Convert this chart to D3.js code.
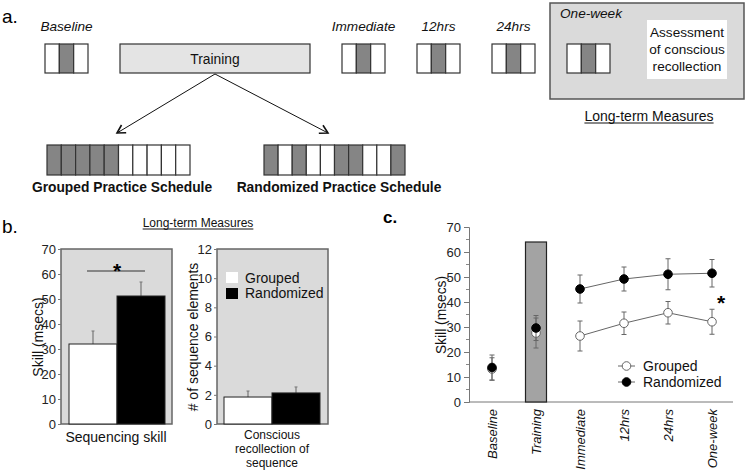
<!DOCTYPE html>
<html><head><meta charset="utf-8">
<script src="https://cdn.jsdelivr.net/npm/d3@7"></script>
<style>body{margin:0;background:#fff;} svg{display:block;font-family:'Liberation Sans',Arial,sans-serif;}</style>
</head><body><svg id="c" width="746" height="473"></svg>
<script>
// ---------- data ----------
const testPoints = ["Baseline","Immediate","12hrs","24hrs","One-week"];
const testPattern = [0,1,0];
const groupedSchedule = [1,1,1,1,1,0,0,0,0,0];
const randomizedSchedule = [1,0,1,0,0,1,1,0,0,1];
const scheduleLabels = ["Grouped Practice Schedule","Randomized Practice Schedule"];
const assessmentLines = ["Assessment","of conscious","recollection"];

const groups = ["Grouped","Randomized"];
const skillMeans = [32.0, 51.2];
const skillErr = [5.2, 5.6];
const skillTicks = [0,10,20,30,40,50,60,70];
const recollMeans = [1.85, 2.13];
const recollErr = [0.41, 0.41];
const recollTicks = [0,2,4,6,8,10,12];
const recollLabel = ["Conscious","recollection of","sequence"];

const timeCats = ["Baseline","Training","Immediate","12hrs","24hrs","One-week"];
const groupedSkill = [13.2,27.6,26.4,31.5,35.7,32.1];
const groupedSkillErr = [4.5,6.0,6.0,4.5,4.5,5.0];
const randomizedSkill = [13.8,29.6,45.2,49.2,51.1,51.5];
const randomizedSkillErr = [5.0,5.0,5.6,4.8,6.2,5.5];
const trainingBar = 64;
const connected = ["Immediate","12hrs","24hrs","One-week"];
const skillTicksC = [0,10,20,30,40,50,60,70];

// ---------- setup ----------
const svg = d3.select("#c");
const GRAYCELL = "#858585";
const EDGE = "#333";

function underlined(g, x, y, txt, size) {
  const t = g.append("text").attr("x", x).attr("y", y).attr("text-anchor","middle")
    .attr("font-size", size).attr("fill","#111").text(txt);
  const w = t.node().getComputedTextLength();
  g.append("line").attr("x1", x - w/2).attr("x2", x + w/2).attr("y1", y + 2).attr("y2", y + 2)
    .attr("stroke","#111").attr("stroke-width",1);
}

// ================= Panel a =================
const A = svg.append("g");
A.append("text").attr("x",2).attr("y",23).attr("font-size",19).text("a.");

// One-week long-term box
A.append("rect").attr("x",550).attr("y",3).attr("width",194).attr("height",96)
  .attr("fill","#dadada").attr("stroke","#555").attr("stroke-width",1.5);
A.append("rect").attr("x",647).attr("y",20).attr("width",80).attr("height",59).attr("fill","#fff");
A.selectAll("text.assess").data(assessmentLines).join("text").attr("class","assess")
  .attr("x",687).attr("y",(d,i)=>37+i*17).attr("text-anchor","middle").attr("font-size",13.6)
  .attr("fill","#111").text(d=>d);
underlined(A, 649, 121, "Long-term Measures", 14);

const boxX = d3.scaleOrdinal().domain(testPoints).range([45,342,417,492,567]);
const boxW = 43, boxY = 44, boxH = 29;
testPoints.forEach(tp => {
  const cx = d3.scaleBand().domain(d3.range(testPattern.length)).range([boxX(tp), boxX(tp)+boxW]);
  A.selectAll(null).data(testPattern).join("rect")
    .attr("x",(d,i)=>cx(i)).attr("y",boxY).attr("width",cx.bandwidth()).attr("height",boxH)
    .attr("fill",d=>d?GRAYCELL:"#fff").attr("stroke",EDGE).attr("stroke-width",1.2);
  const onew = tp === "One-week";
  A.append("text").attr("x", onew ? 560 : boxX(tp)+boxW/2).attr("y", onew ? 18 : 31)
    .attr("text-anchor", onew ? "start" : "middle").attr("font-size",13.6)
    .attr("font-style","italic").attr("fill","#111").text(tp);
});

// Training box
A.append("rect").attr("x",120).attr("y",44).attr("width",190).attr("height",29)
  .attr("fill","#e4e4e4").attr("stroke",EDGE).attr("stroke-width",1.2);
A.append("text").attr("x",215).attr("y",63.5).attr("text-anchor","middle").attr("font-size",13.8)
  .attr("fill","#111").text("Training");

// arrows
const defs = svg.append("defs");
defs.append("marker").attr("id","arr").attr("viewBox","-10 -6 12 12").attr("refX",0).attr("refY",0)
  .attr("markerWidth",12).attr("markerHeight",12).attr("markerUnits","userSpaceOnUse").attr("orient","auto")
  .append("path").attr("d","M-8,-4.5 L0,0 L-8,4.5").attr("fill","none").attr("stroke","#111").attr("stroke-width",1.6);
[[117,133],[328,133]].forEach(([ex,ey]) => {
  A.append("line").attr("x1",215).attr("y1",74).attr("x2",ex).attr("y2",ey)
    .attr("stroke","#111").attr("stroke-width",1).attr("marker-end","url(#arr)");
});

// schedules
const schedules = [groupedSchedule, randomizedSchedule];
const schedRange = [[47,190],[264,405]];
const schedLabelX = [122,339];
schedules.forEach((s, k) => {
  const sx = d3.scaleBand().domain(d3.range(s.length)).range(schedRange[k]);
  A.selectAll(null).data(s).join("rect")
    .attr("x",(d,i)=>sx(i)).attr("y",145).attr("width",sx.bandwidth()).attr("height",30)
    .attr("fill",d=>d?GRAYCELL:"#fff").attr("stroke",EDGE).attr("stroke-width",1.2);
  A.append("text").attr("x",schedLabelX[k]).attr("y",192).attr("text-anchor","middle")
    .attr("font-size",13.8).attr("font-weight","bold").attr("fill","#111").text(scheduleLabels[k]);
});

// ================= Panel b =================
const B = svg.append("g");
B.append("text").attr("x",2).attr("y",233).attr("font-size",19).text("b.");
underlined(B, 198, 227, "Long-term Measures", 12);

function barPanel(frameX, frameW, bandRange, domainMax, ticks, means, errs, ylabel, ylabelX) {
  const y = d3.scaleLinear().domain([0, domainMax]).range([424, 249]);
  const x = d3.scaleBand().domain(groups).range(bandRange);
  B.append("rect").attr("x",frameX).attr("y",249).attr("width",frameW).attr("height",175)
    .attr("fill","#dadada").attr("stroke","#666").attr("stroke-width",1.5);
  const ax = B.append("g").attr("transform",`translate(${frameX},0)`)
    .call(d3.axisLeft(y).tickValues(ticks).tickSize(3).tickPadding(2));
  ax.select(".domain").remove();
  ax.selectAll("text").attr("font-size",13).attr("fill","#222").attr("font-family","'Liberation Sans',Arial,sans-serif");
  ax.selectAll("line").attr("stroke","#777");
  // error bars (upward)
  B.selectAll(null).data(groups).join("line")
    .attr("x1",d=>x(d)+x.bandwidth()/2).attr("x2",d=>x(d)+x.bandwidth()/2)
    .attr("y1",(d,i)=>y(means[i])).attr("y2",(d,i)=>y(means[i]+errs[i]))
    .attr("stroke","#777").attr("stroke-width",1.2);
  B.selectAll(null).data(groups).join("line")
    .attr("x1",d=>x(d)+x.bandwidth()/2-1.5).attr("x2",d=>x(d)+x.bandwidth()/2+1.5)
    .attr("y1",(d,i)=>y(means[i]+errs[i])).attr("y2",(d,i)=>y(means[i]+errs[i]))
    .attr("stroke","#777").attr("stroke-width",1);
  B.selectAll(null).data(groups).join("rect")
    .attr("x",d=>x(d)).attr("width",x.bandwidth())
    .attr("y",(d,i)=>y(means[i])).attr("height",(d,i)=>424-y(means[i]))
    .attr("fill",(d,i)=>i?"#000":"#fff").attr("stroke","#222").attr("stroke-width",1);
  B.append("text").attr("transform",`translate(${ylabelX},337) rotate(-90)`).attr("text-anchor","middle")
    .attr("font-size",14).attr("fill","#111").text(ylabel);
  return {x, y};
}
const left = barPanel(61, 111, [69,165], 70, skillTicks, skillMeans, skillErr, "Skill (msecs)", 43);
const right = barPanel(217, 111, [224,320], 12, recollTicks, recollMeans, recollErr, "# of sequence elements", 198);

// significance
B.append("line").attr("x1",87).attr("x2",145).attr("y1",271).attr("y2",271).attr("stroke","#333").attr("stroke-width",1.2);
B.append("text").attr("x",117).attr("y",278).attr("text-anchor","middle").attr("font-size",21)
  .attr("font-weight","bold").text("*");

B.append("text").attr("x",116).attr("y",442).attr("text-anchor","middle").attr("font-size",14).attr("fill","#111").text("Sequencing skill");
B.selectAll("text.rl").data(recollLabel).join("text").attr("class","rl")
  .attr("x",272).attr("y",(d,i)=>439+i*14).attr("text-anchor","middle").attr("font-size",12)
  .attr("fill","#111").text(d=>d);

// legend b
groups.forEach((g,i) => {
  B.append("rect").attr("x",226).attr("y",272+i*16).attr("width",12).attr("height",11)
    .attr("fill",i?"#000":"#fff");
  B.append("text").attr("x",245).attr("y",282.5+i*15.5).attr("font-size",14).attr("fill","#111").text(g);
});

// ================= Panel c =================
const C = svg.append("g");
C.append("text").attr("x",383).attr("y",223).attr("font-size",17).attr("font-weight","bold").text("c.");
const xc = d3.scalePoint().domain(timeCats).range([492,712]);
const yc = d3.scaleLinear().domain([0,70]).range([402,227]);

// axes
const axL = C.append("g").attr("transform","translate(469,0)")
  .call(d3.axisLeft(yc).tickValues(skillTicksC).tickSize(5).tickPadding(3));
axL.select(".domain").attr("stroke","#777");
axL.selectAll("line").attr("stroke","#777");
axL.selectAll("text").attr("font-size",13).attr("fill","#222").attr("font-family","'Liberation Sans',Arial,sans-serif");
const minor = d3.range(5,70,10);
C.selectAll(null).data(minor).join("line").attr("x1",466).attr("x2",469)
  .attr("y1",d=>yc(d)).attr("y2",d=>yc(d)).attr("stroke","#888");
C.append("line").attr("x1",469).attr("x2",733).attr("y1",402).attr("y2",402).attr("stroke","#777").attr("stroke-width",1);

// training bar
C.append("rect").attr("x",xc("Training")-10.5).attr("width",21).attr("y",yc(trainingBar))
  .attr("height",yc(0)-yc(trainingBar)).attr("fill","#a3a3a3").attr("stroke","#222").attr("stroke-width",1.2);

C.append("text").attr("transform","translate(446,315) rotate(-90)").attr("text-anchor","middle")
  .attr("font-size",13.8).attr("fill","#111").text("Skill (msecs)");

// category labels
C.selectAll("text.cat").data(timeCats).join("text").attr("class","cat")
  .attr("transform",d=>`translate(${xc(d)+4.5},409) rotate(-90)`).attr("text-anchor","end")
  .attr("font-size",13).attr("font-style","italic").attr("fill","#111").text(d=>d);

const series = [
  {name:"Grouped", vals:groupedSkill, errs:groupedSkillErr, fill:"#fff"},
  {name:"Randomized", vals:randomizedSkill, errs:randomizedSkillErr, fill:"#000"}
];
const line = d3.line().x(d=>xc(d.c)).y(d=>yc(d.v));
series.forEach(s => {
  const pts = timeCats.map((c,i)=>({c, v:s.vals[i], e:s.errs[i]}));
  const g = C.append("g");
  g.append("path").datum(pts.filter(p=>connected.includes(p.c))).attr("d",line)
    .attr("fill","none").attr("stroke","#666").attr("stroke-width",1);
  g.selectAll("line.eb").data(pts).join("line").attr("class","eb")
    .attr("x1",d=>xc(d.c)).attr("x2",d=>xc(d.c)).attr("y1",d=>yc(d.v-d.e)).attr("y2",d=>yc(d.v+d.e))
    .attr("stroke","#666").attr("stroke-width",1);
  [-1,1].forEach(sg => {
    g.selectAll(null).data(pts).join("line")
      .attr("x1",d=>xc(d.c)-2.5).attr("x2",d=>xc(d.c)+2.5)
      .attr("y1",d=>yc(d.v+sg*d.e)).attr("y2",d=>yc(d.v+sg*d.e)).attr("stroke","#666").attr("stroke-width",1);
  });
  g.selectAll("circle").data(pts).join("circle").attr("cx",d=>xc(d.c)).attr("cy",d=>yc(d.v)).attr("r",4.3)
    .attr("fill",s.fill).attr("stroke",s.fill==="#fff"?"#666":"#000").attr("stroke-width",1);
});

C.append("text").attr("x",721).attr("y",310).attr("text-anchor","middle").attr("font-size",21)
  .attr("font-weight","bold").text("*");

// legend c
series.forEach((s,i) => {
  const yy = 366 + i*16;
  C.append("line").attr("x1",618).attr("x2",635).attr("y1",yy).attr("y2",yy).attr("stroke","#666");
  C.append("circle").attr("cx",626.5).attr("cy",yy).attr("r",4.3).attr("fill",s.fill)
    .attr("stroke",s.fill==="#fff"?"#666":"#000");
  C.append("text").attr("x",643).attr("y",yy+5).attr("font-size",14).attr("fill","#111").text(s.name);
});
</script></body></html>
